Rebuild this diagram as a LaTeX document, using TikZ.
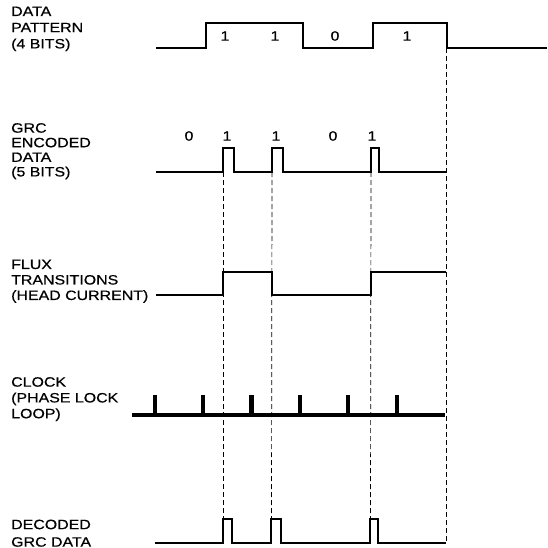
\documentclass[tikz,border=0pt]{standalone}
\usepackage{fontspec}
\setmainfont{Liberation Sans}[FakeStretch=1.18, FakeBold=0.6]
\usepackage{tikz}
\usetikzlibrary{positioning,calc}
\tikzset{
  grclab/.style={anchor=north west, inner sep=0pt, align=left,
                 font=\fontsize{13.5}{#1}\selectfont},
  grclab/.default=15.5,
  grcbit/.style={inner sep=0pt, font=\fontsize{13.5}{14}\selectfont},
  grcwave/.style={draw=black, line width=1.4pt},
  grcclk/.style={draw=black, line width=4.7pt},
  grcdash/.style={draw=black, line width=0.7pt, dash pattern=on 5pt off 3pt},
}
\newcommand{\grcLo}{172}
\newcommand{\grcHi}{148}

\begin{document}
\begin{tikzpicture}[x=1pt, y=-1pt]
  \useasboundingbox (0,0) rectangle (547,548);
  % signal names
  \node[grclab=16.2] (patlab) at (11,6.5) {DATA\\PATTERN\\(4 BITS)};
  \node[grclab=14.6] (enclab) at (11,123) {GRC\\ENCODED\\DATA\\(5 BITS)};
  \node[grclab] (fluxlab) at (11,259.5) {FLUX\\TRANSITIONS\\(HEAD CURRENT)};
  \node[grclab=15.8] (clklab) at (11,377) {CLOCK\\(PHASE LOCK\\LOOP)};
  \node[grclab=17.5] (declab) at (11,519.5) {DECODED\\GRC DATA};

  % data pattern
  \draw[grcwave] (156,48) -| (206,23) -| (303,48) -| (373,23) -| (447,48) -- (547,48);
  \node[grcbit] (pat1) at (225,36) {1};
  \node[grcbit] (pat2) at (275,36) {1};
  \node[grcbit] (pat3) at (335,36) {0};
  \node[grcbit] (pat4) at (407,36) {1};

  % grc encoded data
  \draw[grcwave] (156,\grcLo) -| (223,\grcHi) -| (234,\grcLo) -| (272,\grcHi) -| (283,\grcLo)
                 -| (371,\grcHi) -| (379,\grcLo) -- (446,\grcLo);
  \node[grcbit] (enc1) at (189,136) {0};
  \node[grcbit] (enc2) at (227,136) {1};
  \node[grcbit] (enc3) at (276,136) {1};
  \node[grcbit] (enc4) at (333,136) {0};
  \node[grcbit] (enc5) at (372,136) {1};

  % flux transitions
  \draw[grcwave] (156,295) -| (223,272) -| (272,295) -| (371,272) -- (446,272);

  % clock
  \draw[grcclk] (132,415) -- (445,415);
  \foreach \x in {155,203,251.5,300,348,397}
    \draw[grcclk] (\x,415) -- (\x,395);

  % decoded grc data
  \draw[grcwave] (155,543) -| (223,519) -| (232,543) -| (271,519) -| (281,543)
                 -| (370,519) -| (378,543) -- (446,543);

  % timing marks
  \coordinate (top1) at (223,\grcLo);
  \coordinate (top2) at (272,\grcLo);
  \coordinate (top3) at (371,\grcLo);
  \coordinate (top4) at (446,48);
  \coordinate (bot1) at (223,519);
  \coordinate (bot2) at (271.5,519);
  \coordinate (bot3) at (370.5,519);
  \coordinate (bot4) at (446,543);
  \foreach \i in {1,...,4}
    \draw[grcdash] (top\i) -- (bot\i);
\end{tikzpicture}
\end{document}
